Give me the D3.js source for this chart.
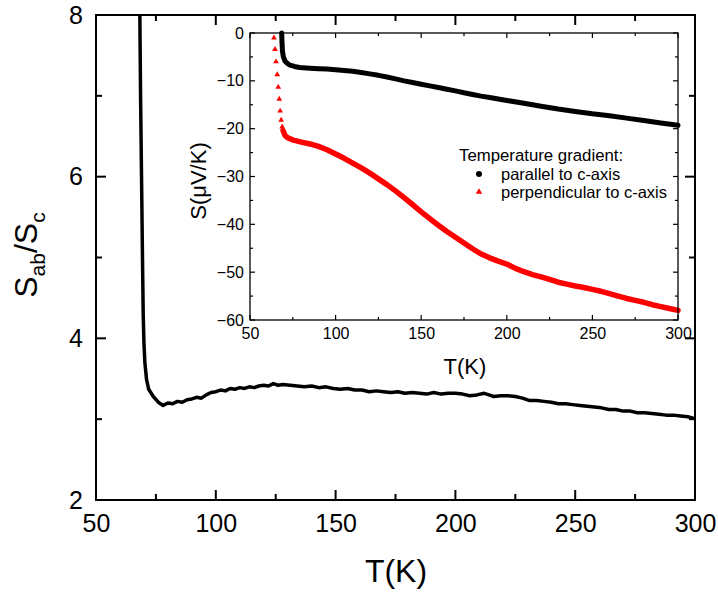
<!DOCTYPE html>
<html>
<head>
<meta charset="utf-8">
<script src="https://cdn.jsdelivr.net/npm/d3@7"></script>
<style>
  body { margin: 0; background: #fff; }
  text { font-family: "Liberation Sans", Arial, sans-serif; fill: #000; }
</style>
</head>
<body>
<div class="chart"></div>
<script>
// main panel: Sab/Sc ratio vs T
var mainT = [68.3, 68.6, 69.0, 69.4, 69.7, 70.0, 70.4, 71.1, 72.0, 73.9, 76.0, 78.0,
  80, 82, 84, 86, 88, 90, 92, 94, 96, 98, 100, 102, 104, 106, 108, 110, 112, 114,
  116, 118, 120, 122, 124, 126, 128, 131, 134, 137, 140, 143, 146, 149, 152, 155,
  158, 161, 164, 167, 170, 173, 176, 179, 182, 185, 188, 191, 194, 197, 200, 203,
  206, 209, 212, 214, 216, 219, 222, 225, 228, 231, 234, 237, 240, 243, 246, 249,
  252, 255, 258, 261, 264, 267, 270, 273, 276, 279, 282, 285, 288, 291, 294, 297, 299.5];
var mainRatio = [8.0, 7.0, 6.0, 5.0, 4.3, 3.95, 3.70, 3.49, 3.37, 3.28, 3.21, 3.17,
  3.20, 3.19, 3.22, 3.21, 3.24, 3.25, 3.27, 3.26, 3.30, 3.33, 3.34, 3.36, 3.35, 3.38, 3.37, 3.39, 3.38, 3.40,
  3.39, 3.41, 3.42, 3.41, 3.44, 3.42, 3.43, 3.42, 3.41, 3.40, 3.41, 3.39, 3.40, 3.38, 3.37, 3.38,
  3.36, 3.36, 3.34, 3.35, 3.34, 3.33, 3.34, 3.32, 3.33, 3.32, 3.31, 3.33, 3.31, 3.32, 3.32, 3.31,
  3.29, 3.30, 3.32, 3.30, 3.28, 3.29, 3.29, 3.28, 3.26, 3.23, 3.23, 3.22, 3.21, 3.19, 3.19, 3.18,
  3.17, 3.16, 3.15, 3.14, 3.12, 3.12, 3.10, 3.10, 3.08, 3.08, 3.07, 3.06, 3.05, 3.05, 3.04, 3.03, 3.01];

// inset: thermopower, gradient parallel to c-axis
var parT = [68.5, 68.7, 69.0, 69.5, 70.5, 72, 73.4, 76, 79, 85, 90, 95, 100, 105, 110, 115,
  120, 125, 130, 135, 140, 145, 150, 155, 160, 165, 170, 175, 180, 185, 190, 195, 200,
  210, 220, 230, 240, 250, 260, 270, 280, 290, 300];
var parS = [0, -2, -3.9, -5.0, -5.9, -6.4, -6.7, -7.0, -7.2, -7.35, -7.45, -7.55, -7.7, -7.85, -8.0, -8.25,
  -8.55, -8.85, -9.2, -9.6, -10.0, -10.35, -10.7, -11.05, -11.4, -11.75, -12.1, -12.5, -12.85, -13.2, -13.5, -13.8, -14.1,
  -14.7, -15.3, -15.9, -16.4, -16.9, -17.3, -17.8, -18.3, -18.8, -19.3];

// inset: gradient perpendicular to c-axis (sparse points near the transition, then dense)
var perpSparseT = [64.0, 64.6, 65.2, 65.9, 66.5, 67.1, 67.6, 68.2, 68.8];
var perpSparseS = [-1.0, -3.4, -6.0, -8.7, -11.3, -13.8, -16.3, -18.2, -19.6];
var perpT = [69.3, 70.4, 72, 75.3, 80, 85, 90, 95, 100, 105, 110, 115, 120, 125, 130, 135,
  140, 145, 150, 155, 160, 165, 170, 175, 180, 185, 190, 195, 200, 205, 210, 215, 220,
  225, 230, 235, 240, 245, 250, 255, 260, 265, 270, 275, 280, 285, 290, 295, 300];
var perpS = [-20.4, -21.4, -21.9, -22.4, -22.8, -23.2, -23.7, -24.4, -25.3, -26.2, -27.2, -28.2, -29.3, -30.5, -31.7, -33.0,
  -34.4, -35.9, -37.4, -38.8, -40.2, -41.5, -42.7, -43.9, -45.1, -46.2, -47.0, -47.7, -48.3, -49.2, -49.9, -50.5, -51.0,
  -51.5, -52.1, -52.5, -52.9, -53.2, -53.6, -54.0, -54.5, -55.0, -55.5, -55.9, -56.3, -56.8, -57.2, -57.6, -58.0];

var xMajor = [50, 100, 150, 200, 250, 300];
var xMinor = [75, 125, 175, 225, 275];
var mainYMajor = [2, 4, 6, 8];
var mainYMinor = [3, 5, 7];
var insetYMajor = [0, -10, -20, -30, -40, -50, -60];
var insetYMinor = [-5, -15, -25, -35, -45, -55];

var legendLabels = ["parallel to c-axis", "perpendicular to c-axis"];

var svgWidth = 718;
var svgHeight = 592;

var svg = d3.select(".chart")
    .append("svg")
    .attr("width", svgWidth)
    .attr("height", svgHeight);

// ticks point inward on all four sides, labels only bottom/left
function drawAxes(g, xs, ys, box, o) {
    g.append("g").attr("transform", "translate(0," + box.bottom + ")")
        .call(d3.axisBottom(xs).tickValues(xMajor).tickSize(0).tickPadding(o.xPad).tickFormat(d3.format("d")))
        .call(styleAxis);
    g.append("g").attr("transform", "translate(" + box.left + ",0)")
        .call(d3.axisLeft(ys).tickValues(o.yMajor).tickSize(0).tickPadding(o.yPad).tickFormat(d3.format("d")))
        .call(styleAxis);

    var ticks = g.append("g")
        .attr("stroke", "#000")
        .attr("stroke-width", o.tickW);

    function xTicks(vals, len) {
        vals.forEach(function(v) {
            ticks.append("line")
                .attr("x1", xs(v)).attr("x2", xs(v))
                .attr("y1", box.bottom).attr("y2", box.bottom - len);
            ticks.append("line")
                .attr("x1", xs(v)).attr("x2", xs(v))
                .attr("y1", box.top).attr("y2", box.top + len);
        });
    }
    function yTicks(vals, len) {
        vals.forEach(function(v) {
            ticks.append("line")
                .attr("y1", ys(v)).attr("y2", ys(v))
                .attr("x1", box.left).attr("x2", box.left + len);
            ticks.append("line")
                .attr("y1", ys(v)).attr("y2", ys(v))
                .attr("x1", box.right).attr("x2", box.right - len);
        });
    }
    xTicks(xMajor, o.major);
    xTicks(xMinor, o.minor);
    yTicks(o.yMajor, o.major);
    yTicks(o.yMinor, o.minor);

    g.append("rect")
        .attr("x", box.left).attr("y", box.top)
        .attr("width", box.right - box.left).attr("height", box.bottom - box.top)
        .attr("fill", "none").attr("stroke", "#000").attr("stroke-width", o.frame);

    function styleAxis(sel) {
        sel.select(".domain").remove();
        sel.selectAll("line").remove();
        sel.attr("font-family", null).attr("font-size", null);
        sel.selectAll("text").style("font-size", o.font + "px").attr("fill", "#000");
    }
}

// ---------- main panel ----------
var main = { left: 96, right: 695, top: 15, bottom: 500 };
var x = d3.scaleLinear().domain([50, 300]).range([main.left, main.right]);
var y = d3.scaleLinear().domain([2, 8]).range([main.bottom, main.top]);

var mainG = svg.append("g");

mainG.append("path")
    .datum(d3.range(mainT.length))
    .attr("fill", "none")
    .attr("stroke", "#000")
    .attr("stroke-width", 3.5)
    .attr("stroke-linejoin", "round")
    .attr("d", d3.line()
        .x(function(i) { return x(mainT[i]); })
        .y(function(i) { return y(mainRatio[i]); }));

drawAxes(mainG, x, y, main, {
    major: 10, minor: 6, xPad: 14, yPad: 13, font: 25, frame: 2, tickW: 2,
    yMajor: mainYMajor, yMinor: mainYMinor
});

mainG.append("text")
    .attr("x", 396)
    .attr("y", 582)
    .attr("text-anchor", "middle")
    .style("font-size", "32px")
    .text("T(K)");

var yl = mainG.append("text")
    .attr("transform", "translate(37,255) rotate(-90)")
    .attr("text-anchor", "middle")
    .style("font-size", "32px");
yl.append("tspan").text("S");
yl.append("tspan").attr("dy", 8).style("font-size", "21px").text("ab");
yl.append("tspan").attr("dy", -8).text("/S");
yl.append("tspan").attr("dy", 8).style("font-size", "21px").text("c");

// ---------- inset ----------
var inset = { left: 250, right: 678, top: 33, bottom: 320 };
var xi = d3.scaleLinear().domain([50, 300]).range([inset.left, inset.right]);
var yi = d3.scaleLinear().domain([-60, 0]).range([inset.bottom, inset.top]);

var insetG = svg.append("g");

insetG.append("rect")
    .attr("x", inset.left).attr("y", inset.top)
    .attr("width", inset.right - inset.left).attr("height", inset.bottom - inset.top)
    .attr("fill", "#fff");

insetG.append("path")
    .datum(d3.range(parT.length))
    .attr("fill", "none")
    .attr("stroke", "#000")
    .attr("stroke-width", 5)
    .attr("stroke-linejoin", "round")
    .attr("stroke-linecap", "round")
    .attr("d", d3.line()
        .x(function(i) { return xi(parT[i]); })
        .y(function(i) { return yi(parS[i]); }));

insetG.append("path")
    .datum(d3.range(perpT.length))
    .attr("fill", "none")
    .attr("stroke", "#ff0000")
    .attr("stroke-width", 5.5)
    .attr("stroke-linejoin", "round")
    .attr("stroke-linecap", "round")
    .attr("d", d3.line()
        .x(function(i) { return xi(perpT[i]); })
        .y(function(i) { return yi(perpS[i]); }));

var tri = d3.symbol().type(d3.symbolTriangle).size(14);
insetG.selectAll(".tri")
    .data(d3.range(perpSparseT.length))
    .enter()
    .append("path")
    .attr("class", "tri")
    .attr("transform", function(i) {
        return "translate(" + xi(perpSparseT[i]) + "," + yi(perpSparseS[i]) + ")";
    })
    .attr("d", tri)
    .attr("fill", "#ff0000");

drawAxes(insetG, xi, yi, inset, {
    major: 5, minor: 3, xPad: 8, yPad: 6, font: 16, frame: 1.3, tickW: 1.2,
    yMajor: insetYMajor, yMinor: insetYMinor
});

insetG.append("text")
    .attr("x", 465)
    .attr("y", 374)
    .attr("text-anchor", "middle")
    .style("font-size", "22px")
    .text("T(K)");

insetG.append("text")
    .attr("transform", "translate(206,181) rotate(-90)")
    .attr("text-anchor", "middle")
    .style("font-size", "22px")
    .text("S(\u03bcV/K)");

// legend
var leg = insetG.append("g");
leg.append("text")
    .attr("x", 459).attr("y", 161)
    .style("font-size", "16.8px")
    .text("Temperature gradient:");
leg.append("circle")
    .attr("cx", 479).attr("cy", 174).attr("r", 3)
    .attr("fill", "#000");
leg.append("path")
    .attr("transform", "translate(479,192)")
    .attr("d", d3.symbol().type(d3.symbolTriangle).size(18))
    .attr("fill", "#ff0000");
leg.selectAll(".legtext")
    .data(legendLabels)
    .enter()
    .append("text")
    .attr("class", "legtext")
    .attr("x", 501)
    .attr("y", function(d, i) { return 180 + i * 18; })
    .style("font-size", "16.5px")
    .text(function(d) { return d; });
</script>
</body>
</html>
